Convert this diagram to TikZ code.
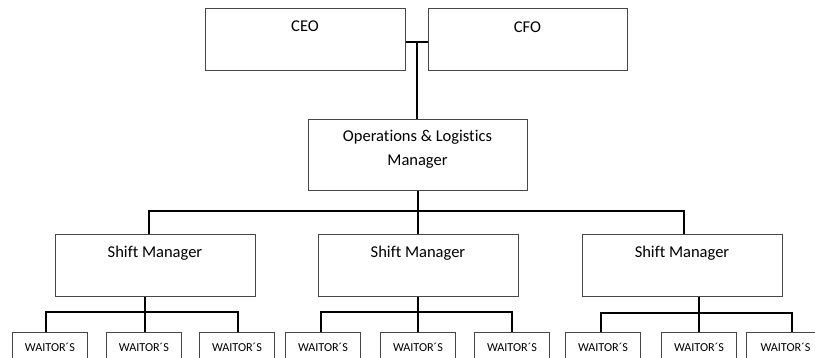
\documentclass[tikz,border=0pt]{standalone}
\usepackage{fontspec}
\setmainfont[Ligatures=NoCommon]{Carlito}
\begin{document}
\begin{tikzpicture}[x=1pt,y=-1pt,
  box/.style={draw=black!72, line width=0.9pt, anchor=north west, inner sep=0pt, fill=white},
  bigbox/.style={box, minimum width=200pt, minimum height=62pt},
  waiter/.style={box, minimum width=75pt, minimum height=30pt, font=\fontsize{12.2}{14}\selectfont},
  big/.style={font=\fontsize{16.5}{24}\selectfont, inner sep=0pt, align=center},
  conn/.style={line width=2.2pt, black},
]
\useasboundingbox (0,0) rectangle (815,358);
\clip (0,0) rectangle (815,358);

% top boxes
\node[bigbox, minimum width=200pt] (ceo) at (205,8) {};
\node[big] (ceot) at (305,26.5) {CEO};
\node[bigbox, minimum width=199pt] (cfo) at (428,8.5) {};
\node[big] (cfot) at (527.5,27) {CFO};

% operations
\node[box, minimum width=219pt, minimum height=71pt] (ops) at (308,119) {};
\node[big] (opst) at (417.5,149) {Operations \& Logistics\\Manager};

% shift managers
\node[bigbox] (s1) at (55,234) {};
\node[big] (s1t) at (155,253) {Shift Manager};
\node[bigbox] (s2) at (318,234) {};
\node[big] (s2t) at (418,253) {Shift Manager};
\node[bigbox] (s3) at (582,234) {};
\node[big] (s3t) at (682,253) {Shift Manager};

% waiters
\node[waiter] (w11) at (12,332) {WAITOR´S};
\node[waiter] (w12) at (106,332) {WAITOR´S};
\node[waiter] (w13) at (199,332) {WAITOR´S};
\node[waiter] (w21) at (285,332) {WAITOR´S};
\node[waiter] (w22) at (380,332) {WAITOR´S};
\node[waiter] (w23) at (474,332) {WAITOR´S};
\node[waiter] (w31) at (565,332) {WAITOR´S};
\node[waiter] (w32) at (661,332) {WAITOR´S};
\node[waiter, minimum width=78pt] (w33) at (746,332) {WAITOR´S};

% junctions
\coordinate (j) at (417,42);
\coordinate (bL) at (149,211);
\coordinate (bM) at (418,211);
\coordinate (bR) at (684,211);
\coordinate (g1a) at (46,312);
\coordinate (g1b) at (145,312);
\coordinate (g1c) at (238,312);
\coordinate (g2a) at (321,312);
\coordinate (g2b) at (418,312);
\coordinate (g2c) at (512,312);
\coordinate (g3a) at (601,313);
\coordinate (g3b) at (699,313);
\coordinate (g3c) at (792,313);

% connectors
\draw[conn] (ceo.east |- j) -- (cfo.west |- j);
\draw[conn] (j) -- (j |- ops.north);
\draw[conn] (ops.south -| bM) -- (s2.north -| bM);
\draw[conn] (s1.north -| bL) -- (bL) -- (bR) -- (s3.north -| bR);

\draw[conn] (s1.south -| g1b) -- (w12.north -| g1b);
\draw[conn] (w11.north -| g1a) -- (g1a) -- (g1c) -- (w13.north -| g1c);
\draw[conn] (s2.south -| g2b) -- (w22.north -| g2b);
\draw[conn] (w21.north -| g2a) -- (g2a) -- (g2c) -- (w23.north -| g2c);
\draw[conn] (s3.south -| g3b) -- (w32.north -| g3b);
\draw[conn] (w31.north -| g3a) -- (g3a) -- (g3c) -- (w33.north -| g3c);
\end{tikzpicture}
\end{document}
